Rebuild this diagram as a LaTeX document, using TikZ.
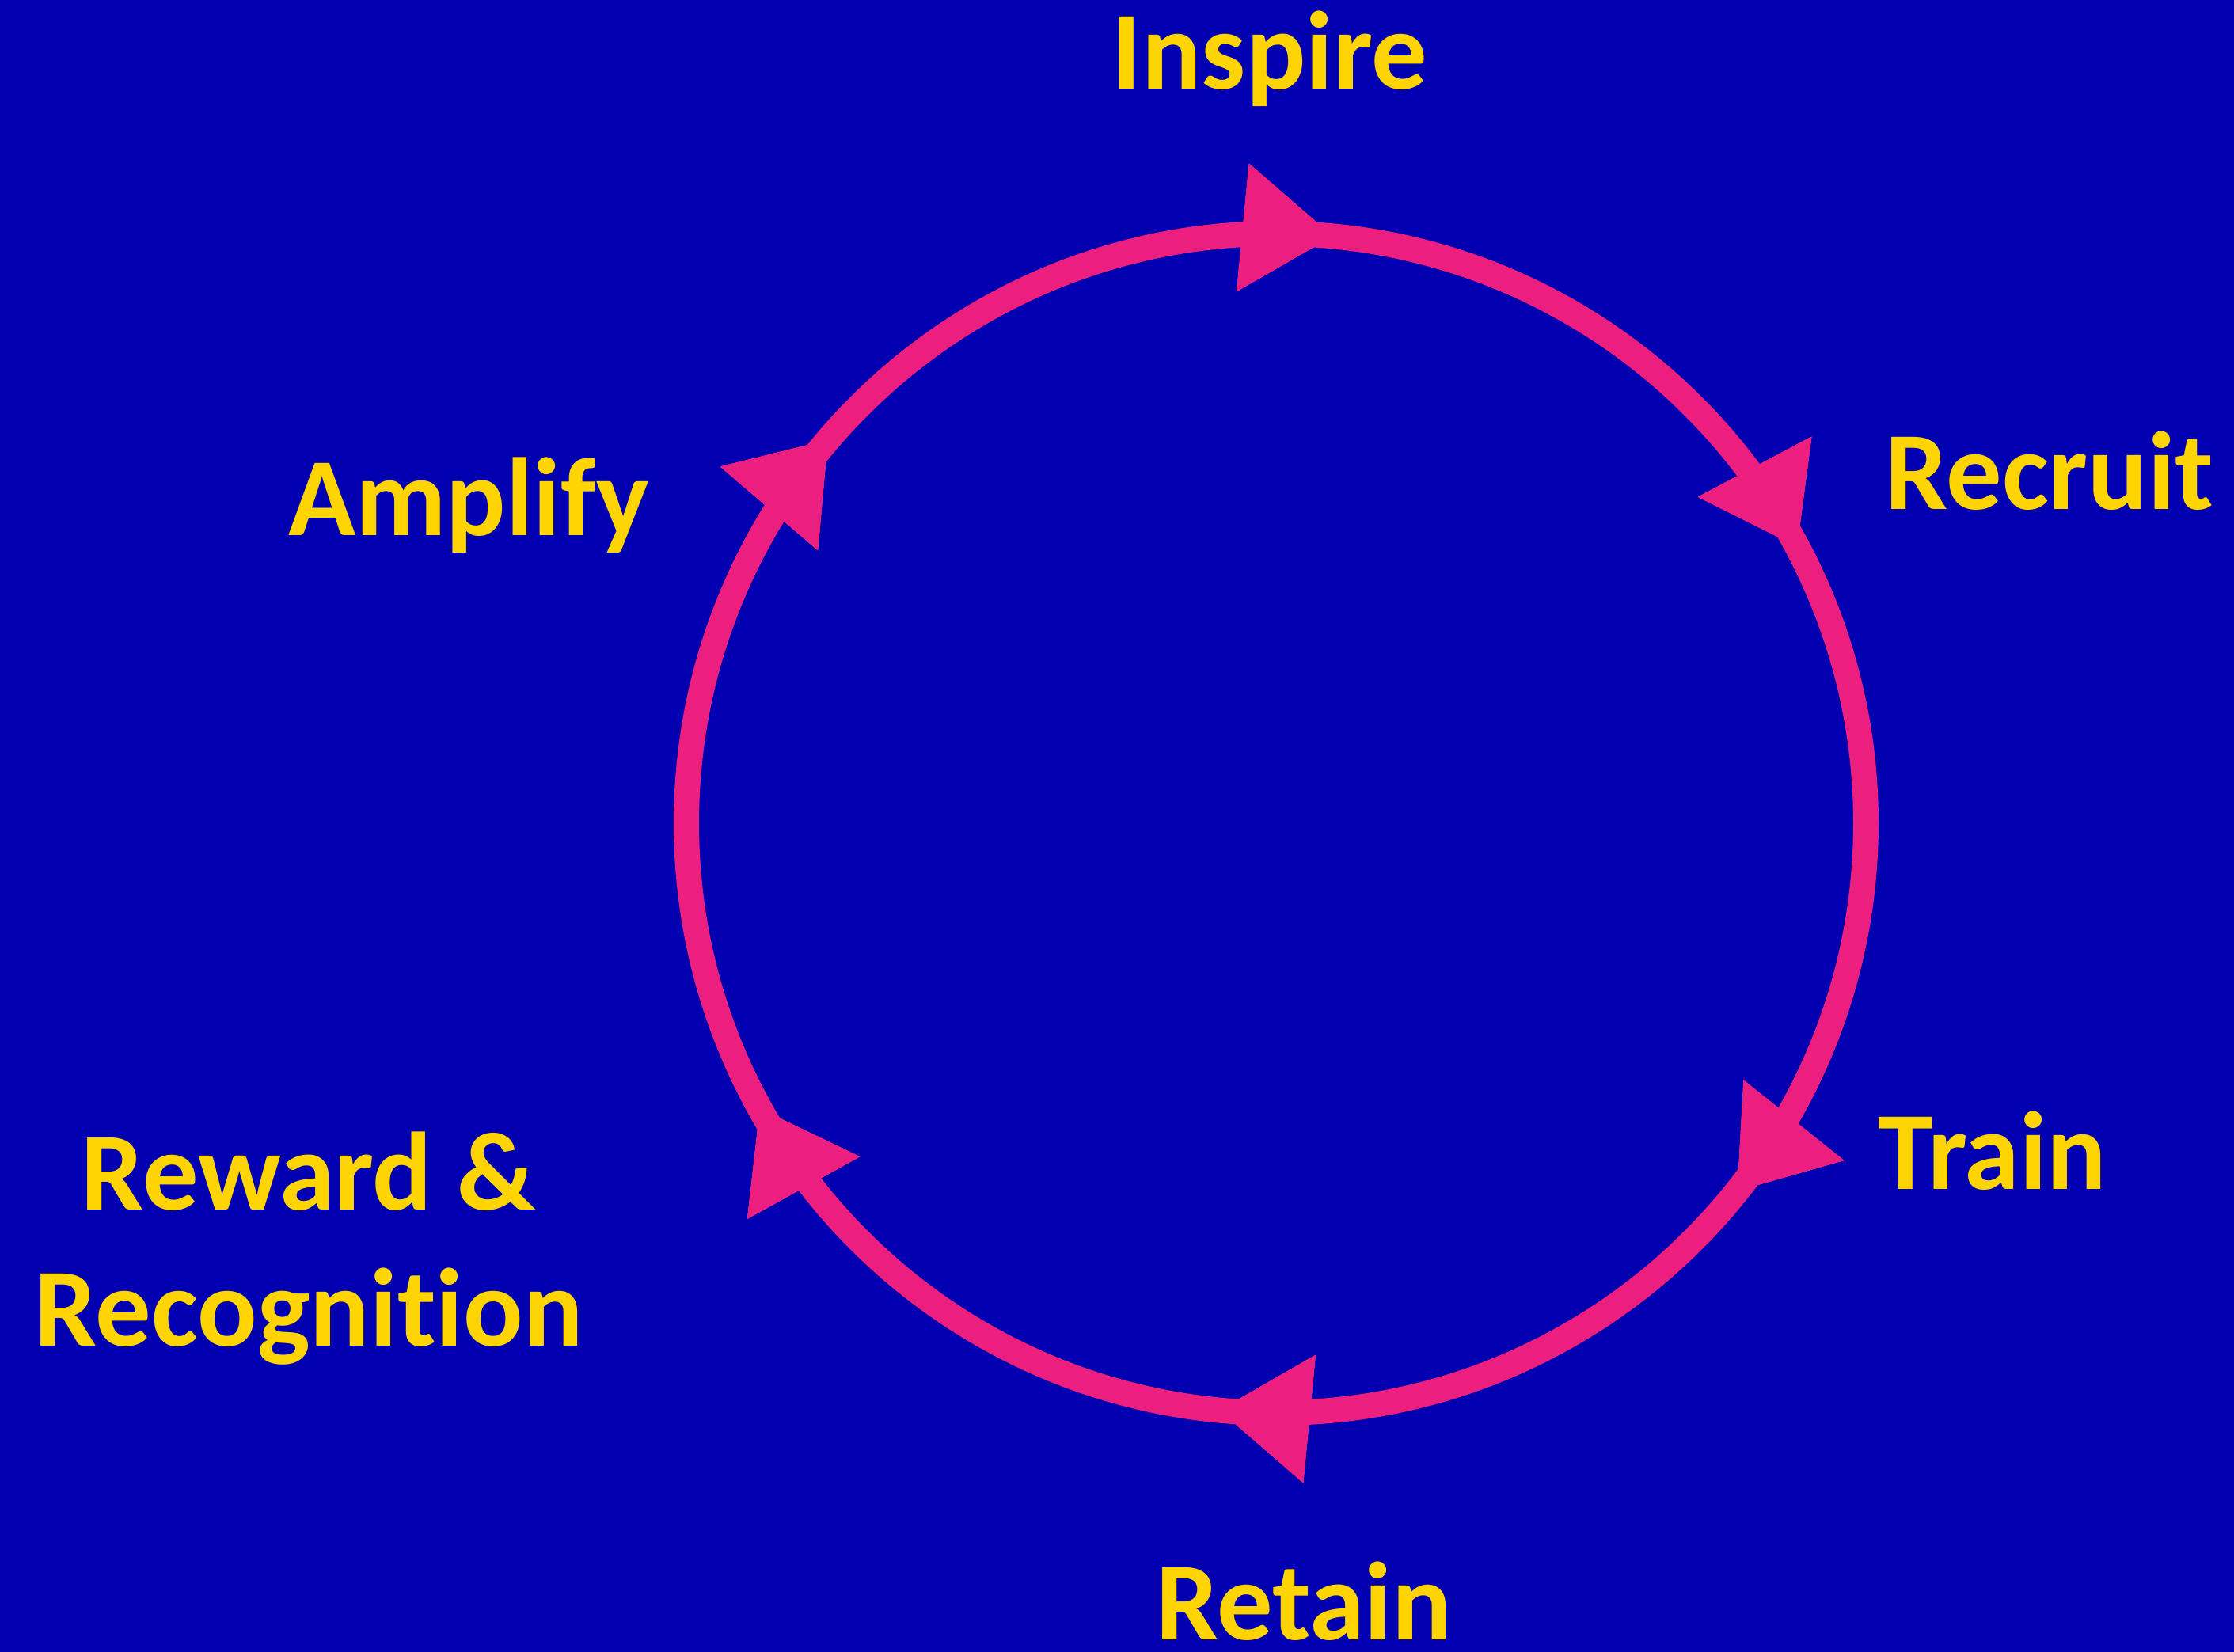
\documentclass[tikz,border=0pt]{standalone}
\usepackage{fontspec}
\setmainfont{Carlito}[Ligatures=NoCommon]
\usetikzlibrary{arrows.meta,decorations.markings}
\definecolor{slideblue}{RGB}{0,0,176}
\definecolor{cyclepink}{RGB}{236,30,126}
\definecolor{labelgold}{RGB}{255,212,0}
\tikzset{
    stage/.style={text=labelgold, font=\bfseries\fontsize{40}{49}\selectfont, inner sep=0pt, anchor=base},
    cycletip/.style={decoration={markings, mark=at position #1 with {\arrowreversed{Triangle[length=1.15cm,width=1.54cm]}}}, postaction=decorate}
}
\begin{document}
\begin{tikzpicture}
    \useasboundingbox (0, 0) rectangle (28.22, 20.86);
    \fill[slideblue] (-0.1, -0.1) rectangle (28.32, 20.96);
    \coordinate (hub) at (16.12, 10.46);
    \draw[cyclepink, line width=0.32cm, cycletip=0.0775, cycletip=0.2345, cycletip=0.3872,
        cycletip=0.5802, cycletip=0.7345, cycletip=0.8927] (hub) circle[radius=7.45];
    \node[stage] (inspire) at (16.04, 19.73) {Inspire};
    \node[stage] (recruit) at (25.89, 14.42) {Recruit};
    \node[stage] (train) at (25.17, 5.83) {Train};
    \node[stage] (retain) at (16.47, 0.15) {Retain};
    \node[stage, align=center] (reward) at (3.90, 3.85) {Reward \&\\Recognition};
    \node[stage] (amplify) at (5.92, 14.09) {Amplify};
\end{tikzpicture}
\end{document}
